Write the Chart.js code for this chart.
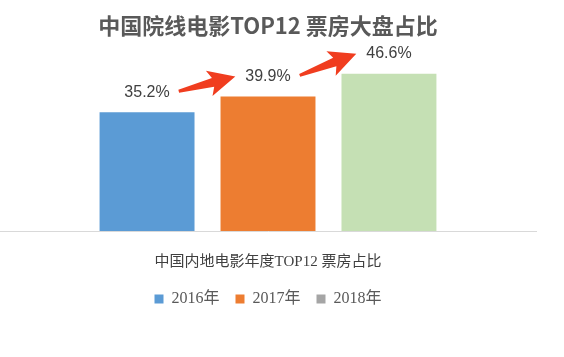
<!DOCTYPE html>
<html lang="zh">
<head>
    <meta charset="UTF-8">
    <title>中国院线电影TOP12 票房大盘占比</title>
    <script src="https://cdn.jsdelivr.net/npm/chart.js"></script>
    <style>
        body { margin: 0; background: #fff; }
        .chart-box { width: 564px; height: 357px; position: relative; }
    </style>
</head>
<body>
    <div class="chart-box">
        <canvas id="shareChart"></canvas>
    </div>

    <script>
    // data
    const categories = ['中国内地电影年度TOP12 票房占比'];
    const years = ['2016年', '2017年', '2018年'];
    const shares = [35.2, 39.9, 46.6];

    const barColors = ['#5b9bd5', '#ed7d31', '#c5e0b4'];
    const legendColors = ['#5b9bd5', '#ed7d31', '#a5a5a5'];

    const sansCJK = "'Noto Sans CJK SC', sans-serif";
    const serifMix = "'Liberation Serif', 'Noto Sans CJK SC', serif";

    // value labels above each bar
    const valueLabels = {
        id: 'valueLabels',
        afterDatasetsDraw(chart) {
            const ctx = chart.ctx;
            ctx.save();
            ctx.font = "16px 'Liberation Sans', Arial, sans-serif";
            ctx.fillStyle = '#404040';
            ctx.textAlign = 'center';
            ctx.textBaseline = 'middle';
            chart.data.datasets.forEach((ds, i) => {
                const bar = chart.getDatasetMeta(i).data[0];
                ctx.fillText(ds.data[0].toFixed(1) + '%', bar.x, bar.y - 20);
            });
            ctx.restore();
        }
    };

    // red arrows from one label to the next
    const growthArrows = {
        id: 'growthArrows',
        afterDatasetsDraw(chart) {
            const ctx = chart.ctx;
            ctx.save();
            ctx.font = "16px 'Liberation Sans', Arial, sans-serif";
            const pts = chart.data.datasets.map((ds, i) => {
                const bar = chart.getDatasetMeta(i).data[0];
                const w = ctx.measureText(ds.data[0].toFixed(1) + '%').width;
                return { x: bar.x, y: bar.y - 20, half: w / 2 };
            });
            ctx.fillStyle = '#f03d1f';
            for (let i = 0; i < pts.length - 1; i++) {
                const a = pts[i], b = pts[i + 1];
                const x1 = a.x + a.half + 9, y1 = a.y - 1;
                const x2 = b.x - b.half - 10, y2 = b.y;
                const dx = x2 - x1, dy = y2 - y1;
                const len = Math.hypot(dx, dy);
                const ux = dx / len, uy = dy / len;
                const nx = -uy, ny = ux;
                const headLen = 23, headHalf = 13;
                const bx = x2 - ux * headLen, by = y2 - uy * headLen;
                ctx.beginPath();
                ctx.moveTo(x1 + nx * 1.5, y1 + ny * 1.5);
                ctx.lineTo(bx + nx * 4.5, by + ny * 4.5);
                ctx.lineTo(bx - ux * 4 + nx * headHalf, by - uy * 4 + ny * headHalf);
                ctx.lineTo(x2, y2);
                ctx.lineTo(bx - ux * 4 - nx * headHalf, by - uy * 4 - ny * headHalf);
                ctx.lineTo(bx - nx * 4.5, by - ny * 4.5);
                ctx.lineTo(x1 - nx * 1.5, y1 - ny * 1.5);
                ctx.closePath();
                ctx.fill();
            }
            ctx.restore();
        }
    };

    new Chart(document.getElementById('shareChart'), {
        type: 'bar',
        data: {
            labels: categories,
            datasets: years.map((y, i) => ({
                label: y,
                data: [shares[i]],
                backgroundColor: barColors[i],
                categoryPercentage: 0.677,
                barPercentage: 0.785
            }))
        },
        options: {
            responsive: true,
            maintainAspectRatio: false,
            animation: false,
            layout: {
                padding: { left: 0, right: 28, top: 0, bottom: 40 }
            },
            plugins: {
                title: {
                    display: true,
                    text: '中国院线电影TOP12 票房大盘占比',
                    color: '#595959',
                    font: { family: sansCJK, size: 22, weight: 'bold' },
                    padding: { top: 12, bottom: 24 }
                },
                legend: {
                    position: 'bottom',
                    labels: {
                        boxWidth: 9,
                        boxHeight: 9,
                        padding: 16,
                        color: '#595959',
                        font: { family: serifMix, size: 16 },
                        generateLabels(chart) {
                            return chart.data.datasets.map((ds, i) => ({
                                text: ds.label,
                                fillStyle: legendColors[i],
                                strokeStyle: legendColors[i],
                                lineWidth: 0,
                                fontColor: '#595959',
                                hidden: !chart.isDatasetVisible(i),
                                datasetIndex: i
                            }));
                        }
                    }
                },
                tooltip: { enabled: false }
            },
            scales: {
                x: {
                    grid: { display: false, drawTicks: false },
                    border: { display: true, color: '#d9d9d9', width: 1 },
                    ticks: {
                        color: '#404040',
                        padding: 22,
                        font: { family: serifMix, size: 15 }
                    },
                    afterFit(scale) {
                        scale.height -= 18;
                    }
                },
                y: {
                    display: false,
                    min: 0,
                    max: 50
                }
            }
        },
        plugins: [valueLabels, growthArrows]
    });
    </script>
</body>
</html>
